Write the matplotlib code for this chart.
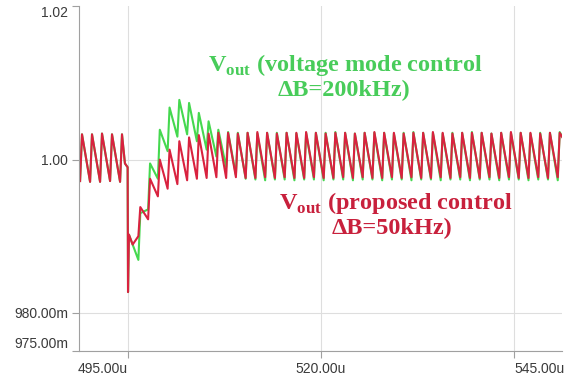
import numpy as np
import matplotlib
matplotlib.use("Agg")
import matplotlib.pyplot as plt

# Осі: час у мікросекундах, напруга у вольтах
x_ticks = [495.0, 520.0, 545.0]
x_labels = ["495.00u", "520.00u", "545.00u"]
y_ticks = [1.02, 1.00, 0.98, 0.975]
y_labels = ["1.02", "1.00", "980.00m", "975.00m"]

# Пульсації до стрибка навантаження (однакові для обох кривих)
pre_t0 = 489.04
pre_period = 1.295
pre_peak = [1.0033, 1.0033, 1.0034, 1.0033, 1.0033]
pre_trough = [0.9972, 0.9971, 0.9971, 0.9972, 0.9971]

# Сам стрибок
step_t = [494.60, 494.95, 495.00, 495.12, 495.60]
step_v = [0.9995, 0.9990, 0.9827, 0.9902, 0.9889]

# Пульсації після стрибка
post_t0 = 496.59
post_period = 1.263
red_peak = [0.9938, 0.9975, 1.0000, 1.0013, 1.0024, 1.0029, 1.0032, 1.0034, 1.0035, 1.0035,
            1.0034, 1.0035, 1.0036, 1.0035, 1.0034, 1.0035, 1.0035, 1.0036, 1.0035, 1.0034,
            1.0035, 1.0035, 1.0034, 1.0035, 1.0036, 1.0035, 1.0035, 1.0034, 1.0035, 1.0035,
            1.0036, 1.0035, 1.0034, 1.0035, 1.0035, 1.0035, 1.0034, 1.0035, 1.0036, 1.0035,
            1.0035, 1.0034, 1.0035, 1.0035]
red_trough = [0.9900, 0.9922, 0.9952, 0.9962, 0.9968, 0.9973, 0.9975, 0.9976, 0.9977, 0.9976,
              0.9977, 0.9976, 0.9976, 0.9977, 0.9976, 0.9977, 0.9976, 0.9976, 0.9977, 0.9976,
              0.9976, 0.9977, 0.9976, 0.9977, 0.9976, 0.9976, 0.9977, 0.9976, 0.9977, 0.9976,
              0.9976, 0.9977, 0.9976, 0.9977, 0.9976, 0.9976, 0.9977, 0.9976, 0.9977, 0.9976,
              0.9976, 0.9977, 0.9976, 0.9977]
green_peak = [0.9930, 0.9995, 1.0039, 1.0068, 1.0078, 1.0074, 1.0061, 1.0050, 1.0039, 1.0036,
              1.0035, 1.0035, 1.0034, 1.0035, 1.0035, 1.0035, 1.0034, 1.0035, 1.0035, 1.0035,
              1.0036, 1.0035, 1.0034, 1.0035, 1.0035, 1.0035, 1.0034, 1.0035, 1.0036, 1.0035,
              1.0035, 1.0034, 1.0035, 1.0035, 1.0036, 1.0035, 1.0034, 1.0035, 1.0035, 1.0035,
              1.0034, 1.0035, 1.0035, 1.0036]
green_trough = [0.9869, 0.9935, 0.9975, 1.0011, 1.0030, 1.0033, 1.0024, 1.0013, 1.0004, 0.9990,
                0.9980, 0.9975, 0.9974, 0.9973, 0.9974, 0.9974, 0.9973, 0.9974, 0.9974, 0.9973,
                0.9974, 0.9974, 0.9973, 0.9974, 0.9974, 0.9973, 0.9974, 0.9974, 0.9973, 0.9974,
                0.9974, 0.9973, 0.9974, 0.9974, 0.9973, 0.9974, 0.9974, 0.9973, 0.9974, 0.9974,
                0.9973, 0.9974, 0.9974, 0.9973]
tail_v = 1.0025

RISE = 0.25  # тривалість фронту пульсації, мкс


def build_wave(peaks_post, troughs_post):
    t, v = [], []
    for k in range(len(pre_peak)):
        tp = pre_t0 + k * pre_period
        t += [tp - RISE, tp]
        v += [pre_trough[k], pre_peak[k]]
    t += step_t
    v += step_v
    for j in range(len(peaks_post)):
        tp = post_t0 + j * post_period
        t += [tp - RISE, tp]
        v += [troughs_post[j], peaks_post[j]]
    t.append(t[-1] + 0.6)
    v.append(tail_v)
    return np.array(t), np.array(v)


t_red, v_red = build_wave(red_peak, red_trough)
t_green, v_green = build_wave(green_peak, green_trough)

plt.rcParams['mathtext.fontset'] = 'custom'
plt.rcParams['mathtext.rm'] = 'Liberation Serif:bold'

fig = plt.figure(figsize=(5.65, 3.75), dpi=100)
ax = fig.add_axes([0.1398, 0.064, 0.8549, 0.9187])

ax.plot(t_green, v_green, color='#45d84f', lw=1.5)
ax.plot(t_red, v_red, color='#d9223f', lw=1.5)

ax.set_xlim(488.65, 551.2)
ax.set_ylim(0.975, 1.02)
ax.set_xticks(x_ticks)
ax.set_xticklabels(x_labels)
ax.set_yticks(y_ticks)
ax.set_yticklabels(y_labels)
ax.grid(True, color='#dedede', lw=0.8)
ax.set_axisbelow(True)
ax.yaxis.get_gridlines()[0].set_visible(False)  # без лінії по верхньому краю

for side in ['top', 'right']:
    ax.spines[side].set_visible(False)
for side in ['left', 'bottom']:
    ax.spines[side].set_color('#a0a0a0')

ax.tick_params(axis='both', direction='out', length=5, color='#a0a0a0',
               labelcolor='#3a3a3a', labelsize=10, pad=3)
for lbl in ax.get_xticklabels() + ax.get_yticklabels():
    lbl.set_family('Liberation Sans')

# вирівнювання крайніх підписів, як в оригіналі
xl = ax.get_xticklabels()
xl[0].set_ha('right')
xl[-1].set_ha('left')
yl = ax.get_yticklabels()
yl[0].set_va('top')
yl[-1].set_va('bottom')

# Підписи кривих
font = dict(family='Liberation Serif', weight='bold', fontsize=17.5, ha='center', va='center')
ax.text(523.1, 1.01236, r'V$_{\mathrm{out}}$ (voltage mode control', color='#48cc5a', **font)
ax.text(523.0, 1.00909, 'ΔB=200kHz)', color='#48cc5a', **font)
ax.text(529.7, 0.99433, r'V$_{\mathrm{out}}$ (proposed control', color='#c8203c', **font)
ax.text(529.2, 0.99107, 'ΔB=50kHz)', color='#c8203c', **font)

fig.savefig('out.png', dpi=100)
